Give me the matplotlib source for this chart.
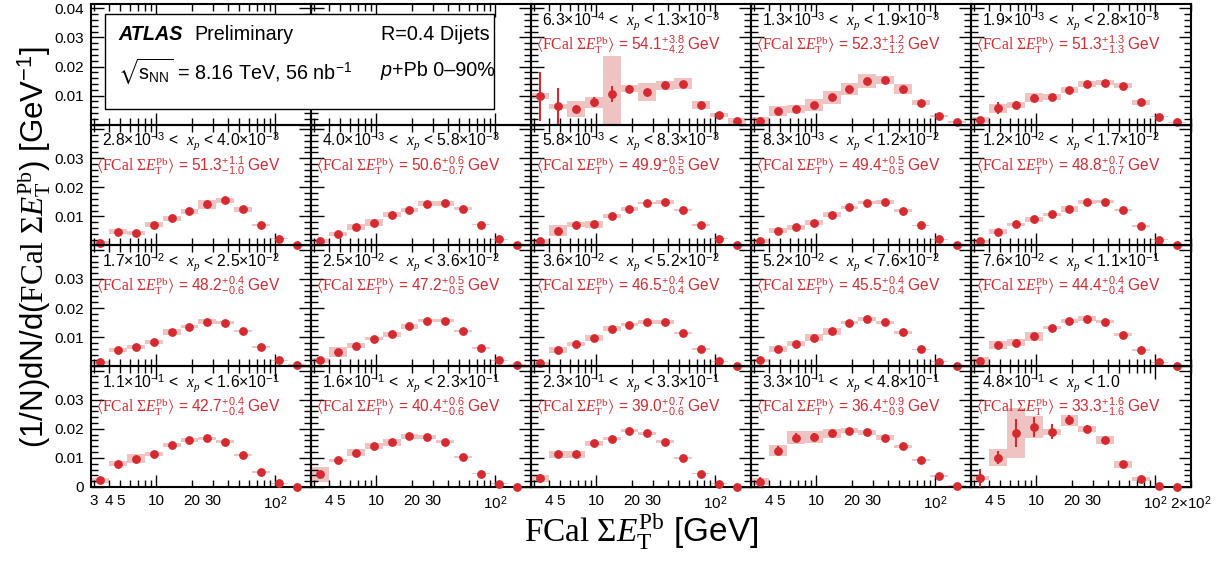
import numpy as np
import matplotlib
matplotlib.use("Agg")
import matplotlib.pyplot as plt
from matplotlib.patches import Rectangle
from matplotlib.ticker import FixedLocator, FuncFormatter, MultipleLocator

plt.rcParams["font.family"] = ["Liberation Sans", "DejaVu Sans"]
plt.rcParams["mathtext.fontset"] = "custom"
plt.rcParams["mathtext.rm"] = "Liberation Serif"
plt.rcParams["mathtext.it"] = "Liberation Serif:italic"
plt.rcParams["mathtext.bf"] = "Liberation Serif:bold"
plt.rcParams["mathtext.sf"] = "Liberation Sans"
plt.rcParams["mathtext.fallback"] = "stix"

# FCal sum ET binning (GeV)
et_edges = [2.83, 4.0, 5.66, 8.0, 11.3, 16.0, 22.6, 32.0, 45.3, 64.0, 90.5, 128.0, 181.0]
et_centers = [3.36, 4.76, 6.73, 9.51, 13.5, 19.0, 26.9, 38.1, 53.8, 76.1, 108.0, 152.0]

# x_p bin boundaries
xp_edges = ["6.3×10$^{\\mathsf{-4}}$", "1.3×10$^{\\mathsf{-3}}$", "1.9×10$^{\\mathsf{-3}}$",
            "2.8×10$^{\\mathsf{-3}}$", "4.0×10$^{\\mathsf{-3}}$", "5.8×10$^{\\mathsf{-3}}$",
            "8.3×10$^{\\mathsf{-3}}$", "1.2×10$^{\\mathsf{-2}}$", "1.7×10$^{\\mathsf{-2}}$",
            "2.5×10$^{\\mathsf{-2}}$", "3.6×10$^{\\mathsf{-2}}$", "5.2×10$^{\\mathsf{-2}}$",
            "7.6×10$^{\\mathsf{-2}}$", "1.1×10$^{\\mathsf{-1}}$", "1.6×10$^{\\mathsf{-1}}$",
            "2.3×10$^{\\mathsf{-1}}$", "3.3×10$^{\\mathsf{-1}}$", "4.8×10$^{\\mathsf{-1}}$", "1.0"]

# <FCal sum ET> per x_p bin, with up / down uncertainties
mean_et = ["54.1", "52.3", "51.3", "51.3", "50.6", "49.9", "49.4", "48.8", "48.2",
           "47.2", "46.5", "45.5", "44.4", "42.7", "40.4", "39.0", "36.4", "33.3"]
mean_up = ["3.8", "1.2", "1.3", "1.1", "0.6", "0.5", "0.5", "0.7", "0.4",
           "0.5", "0.4", "0.4", "0.4", "0.4", "0.6", "0.7", "0.9", "1.6"]
mean_dn = ["4.2", "1.2", "1.3", "1.0", "0.7", "0.5", "0.5", "0.7", "0.6",
           "0.5", "0.4", "0.4", "0.4", "0.4", "0.6", "0.6", "0.9", "1.6"]

# (1/N) dN/dET per x_p bin
dist = [
    [0.0098, 0.0063, 0.0054, 0.0077, 0.0106, 0.0124, 0.0112, 0.0136, 0.0141, 0.0067, 0.0033, 0.0012],
    [0.0012, 0.0047, 0.0054, 0.0067, 0.0094, 0.0122, 0.0151, 0.0153, 0.0123, 0.0076, 0.0030, 0.0009],
    [0.0017, 0.0057, 0.0069, 0.0093, 0.0094, 0.0119, 0.0140, 0.0145, 0.0134, 0.0077, 0.0028, 0.0008],
    [0.0009, 0.0047, 0.0043, 0.0072, 0.0094, 0.0117, 0.0141, 0.0155, 0.0124, 0.0070, 0.0024, 0.0003],
    [0.0014, 0.0040, 0.0063, 0.0078, 0.0106, 0.0122, 0.0144, 0.0145, 0.0127, 0.0072, 0.0022, 0.0003],
    [0.0014, 0.0051, 0.0071, 0.0073, 0.0100, 0.0126, 0.0147, 0.0150, 0.0122, 0.0070, 0.0023, 0.0003],
    [0.0014, 0.0051, 0.0062, 0.0079, 0.0106, 0.0131, 0.0147, 0.0150, 0.0120, 0.0069, 0.0022, 0.0003],
    [0.0014, 0.0047, 0.0073, 0.0090, 0.0107, 0.0126, 0.0149, 0.0150, 0.0123, 0.0067, 0.0020, 0.0003],
    [0.0013, 0.0056, 0.0066, 0.0084, 0.0117, 0.0136, 0.0153, 0.0150, 0.0121, 0.0066, 0.0021, 0.0005],
    [0.0021, 0.0049, 0.0071, 0.0095, 0.0110, 0.0137, 0.0157, 0.0156, 0.0121, 0.0063, 0.0020, 0.0005],
    [0.0010, 0.0057, 0.0077, 0.0097, 0.0129, 0.0142, 0.0152, 0.0152, 0.0115, 0.0059, 0.0017, 0.0002],
    [0.0021, 0.0058, 0.0078, 0.0098, 0.0120, 0.0150, 0.0162, 0.0151, 0.0116, 0.0058, 0.0016, 0.0002],
    [0.0019, 0.0072, 0.0080, 0.0103, 0.0133, 0.0156, 0.0164, 0.0153, 0.0109, 0.0055, 0.0014, 0.0001],
    [0.0023, 0.0080, 0.0097, 0.0114, 0.0144, 0.0162, 0.0167, 0.0156, 0.0110, 0.0051, 0.0013, 0.0000],
    [0.0043, 0.0092, 0.0118, 0.0141, 0.0153, 0.0174, 0.0172, 0.0155, 0.0102, 0.0046, 0.0011, 0.0000],
    [0.0030, 0.0112, 0.0112, 0.0150, 0.0166, 0.0194, 0.0184, 0.0155, 0.0100, 0.0046, 0.0011, 0.0000],
    [0.0018, 0.0125, 0.0170, 0.0172, 0.0184, 0.0194, 0.0188, 0.0170, 0.0140, 0.0093, 0.0038, 0.0005],
    [0.0031, 0.0101, 0.0186, 0.0206, 0.0190, 0.0229, 0.0200, 0.0161, 0.0078, 0.0026, 0.0003, 0.0000],
]

# systematic uncertainties (boxes)
syst = [
    [0.0011, 0.0009, 0.0028, 0.0018, 0.0131, 0.0012, 0.0032, 0.0016, 0.0019, 0.0013, 0.0006, 0.0010],
    [0.0015, 0.0016, 0.0013, 0.0020, 0.0023, 0.0020, 0.0023, 0.0014, 0.0017, 0.0009, 0.0004, 0.0003],
    [0.0010, 0.0015, 0.0010, 0.0015, 0.0010, 0.0010, 0.0010, 0.0010, 0.0008, 0.0008, 0.0002, 0.0002],
    [0.0008, 0.0008, 0.0008, 0.0009, 0.0009, 0.0009, 0.0016, 0.0009, 0.0008, 0.0003, 0.0002, 0.0002],
    [0.0007, 0.0007, 0.0010, 0.0012, 0.0009, 0.0008, 0.0008, 0.0008, 0.0004, 0.0003, 0.0002, 0.0002],
    [0.0008, 0.0019, 0.0009, 0.0012, 0.0007, 0.0008, 0.0004, 0.0008, 0.0005, 0.0003, 0.0002, 0.0002],
    [0.0007, 0.0009, 0.0009, 0.0009, 0.0009, 0.0004, 0.0005, 0.0006, 0.0004, 0.0003, 0.0002, 0.0002],
    [0.0006, 0.0009, 0.0005, 0.0009, 0.0005, 0.0010, 0.0008, 0.0005, 0.0004, 0.0003, 0.0002, 0.0002],
    [0.0005, 0.0008, 0.0006, 0.0007, 0.0011, 0.0005, 0.0008, 0.0005, 0.0004, 0.0003, 0.0002, 0.0002],
    [0.0009, 0.0016, 0.0009, 0.0005, 0.0009, 0.0009, 0.0005, 0.0005, 0.0004, 0.0003, 0.0002, 0.0002],
    [0.0005, 0.0010, 0.0006, 0.0009, 0.0009, 0.0005, 0.0007, 0.0007, 0.0004, 0.0003, 0.0002, 0.0002],
    [0.0005, 0.0010, 0.0009, 0.0012, 0.0012, 0.0005, 0.0008, 0.0005, 0.0004, 0.0003, 0.0002, 0.0002],
    [0.0013, 0.0014, 0.0012, 0.0015, 0.0006, 0.0006, 0.0008, 0.0005, 0.0004, 0.0003, 0.0002, 0.0002],
    [0.0008, 0.0008, 0.0016, 0.0008, 0.0007, 0.0008, 0.0006, 0.0004, 0.0003, 0.0003, 0.0002, 0.0002],
    [0.0027, 0.0005, 0.0013, 0.0010, 0.0011, 0.0008, 0.0006, 0.0005, 0.0003, 0.0003, 0.0002, 0.0002],
    [0.0012, 0.0013, 0.0012, 0.0008, 0.0006, 0.0006, 0.0006, 0.0005, 0.0004, 0.0003, 0.0002, 0.0002],
    [0.0012, 0.0020, 0.0022, 0.0020, 0.0015, 0.0010, 0.0008, 0.0008, 0.0006, 0.0004, 0.0003, 0.0002],
    [0.0008, 0.0028, 0.0085, 0.0038, 0.0010, 0.0018, 0.0010, 0.0013, 0.0012, 0.0007, 0.0002, 0.0002],
]

# statistical uncertainties (vertical bars)
stat_small = [0.0006, 0.0006, 0.0005, 0.0005, 0.0004, 0.0004, 0.0004, 0.0004, 0.0004, 0.0003, 0.0002, 0.0001]
stat = [
    [0.0085, 0.0065, 0.0014, 0.0017, 0.0027, 0.0012, 0.0010, 0.0009, 0.0009, 0.0006, 0.0004, 0.0003],
    [0.0010, 0.0010, 0.0009, 0.0011, 0.0011, 0.0008, 0.0008, 0.0007, 0.0007, 0.0005, 0.0003, 0.0002],
    [0.0008, 0.0021, 0.0011, 0.0012, 0.0008, 0.0007, 0.0006, 0.0006, 0.0006, 0.0004, 0.0003, 0.0002],
    stat_small, stat_small, stat_small, stat_small, stat_small,
    stat_small, stat_small, stat_small, stat_small, stat_small,
    stat_small,
    [0.0010, 0.0006, 0.0005, 0.0005, 0.0004, 0.0004, 0.0004, 0.0004, 0.0004, 0.0003, 0.0002, 0.0001],
    [0.0015, 0.0010, 0.0010, 0.0007, 0.0006, 0.0005, 0.0005, 0.0005, 0.0004, 0.0003, 0.0002, 0.0001],
    [0.0015, 0.0015, 0.0015, 0.0014, 0.0010, 0.0008, 0.0007, 0.0006, 0.0005, 0.0004, 0.0003, 0.0002],
    [0.0030, 0.0023, 0.0047, 0.0035, 0.0025, 0.0017, 0.0013, 0.0009, 0.0006, 0.0005, 0.0003, 0.0002],
]

RED = "#d42a30"
PINK = "#f0c3c3"
YMAX = 0.0415

fig, axes = plt.subplots(4, 5, figsize=(12.26, 5.61), dpi=100)
fig.subplots_adjust(left=91 / 1226, right=1191 / 1226, top=1 - 4 / 561, bottom=1 - 487 / 561,
                    wspace=0, hspace=0)

edges = np.array(et_edges)
widths = np.diff(edges)


def ylabels_for(row):
    def fmt(v, pos):
        if abs(v) < 1e-9:
            return "0" if row == 3 else ""
        if v > 0.0395 and row != 0:
            return ""
        return f"{v:.2f}"
    return fmt


def xlabels_for(col):
    shown = {4: "4", 5: "5", 20: "20", 30: "30"}
    if col == 0:
        shown[3] = "3"
    if col == 4:
        shown[200] = "2×10$^{\\mathsf{2}}$"

    def fmt(v, pos):
        return shown.get(int(round(v)), "")
    return fmt


for r in range(4):
    for c in range(5):
        ax = axes[r, c]
        ax.patch.set_visible(False)
        ax.set_xscale("log")
        ax.set_xlim(2.83, 200)
        ax.set_ylim(0, YMAX)
        for s in ax.spines.values():
            s.set_linewidth(1.5)

        ax.xaxis.set_major_locator(FixedLocator([10, 100]))
        ax.xaxis.set_minor_locator(FixedLocator([3, 4, 5, 6, 7, 8, 9, 20, 30, 40, 50, 60, 70, 80, 90, 200]))
        ax.yaxis.set_major_locator(MultipleLocator(0.01))
        ax.yaxis.set_minor_locator(MultipleLocator(0.002))
        ax.tick_params(which="both", direction="in", top=True, right=True, width=1,
                       labelsize=11, pad=5)
        ax.tick_params(which="major", length=9)
        ax.tick_params(which="minor", length=5)

        if r == 3:
            ax.xaxis.set_major_formatter(FuncFormatter(
                lambda v, p: "10" if v < 50 else "10$^{\\mathsf{2}}$"))
            ax.xaxis.set_minor_formatter(FuncFormatter(xlabels_for(c)))
            ax.tick_params(axis="x", which="both", labelsize=11, pad=5)
        else:
            ax.tick_params(axis="x", which="both", labelbottom=False)
        if c == 0:
            ax.yaxis.set_major_formatter(FuncFormatter(ylabels_for(r)))
        else:
            ax.tick_params(axis="y", which="both", labelleft=False)

        k = r * 5 + c - 2
        if k < 0:
            continue

        y = np.array(dist[k])
        sy = np.array(syst[k])
        st = np.array(stat[k])

        ax.bar(edges[:-1], 2 * sy, width=widths, bottom=y - sy, align="edge",
               color=PINK, linewidth=0, zorder=1)
        ax.vlines(et_centers, y - st, y + st, color=RED, linewidth=1.5, zorder=3)
        ax.plot(et_centers, y, "o", color=RED, ms=5.3, clip_on=False, zorder=5)

        ax.text(0.05, 0.86, xp_edges[k] + " <  $x_{p}$ < " + xp_edges[k + 1],
                transform=ax.transAxes, fontsize=11.3, va="center", ha="left")
        ax.text(0.025, 0.665,
                r"$\langle\mathrm{FCal}\ \Sigma E_{\mathrm{T}}^{\mathrm{Pb}}\rangle$ = "
                + "$\\mathsf{" + mean_et[k] + "}^{\\mathsf{+" + mean_up[k] + "}}_{\\mathsf{-"
                + mean_dn[k] + "}}$ GeV",
                transform=ax.transAxes, fontsize=11.2, color=RED, va="center", ha="left")

# label box in the top-left corner
fig.add_artist(Rectangle((105 / 1226, 1 - 109 / 561), 389 / 1226, 95 / 561,
                         transform=fig.transFigure, facecolor="white", edgecolor="black",
                         linewidth=1, zorder=2))
fig.text(118 / 1226, 1 - 35 / 561, "ATLAS", fontsize=14.2, fontweight="bold", fontstyle="italic",
         va="center", zorder=3)
fig.text(194 / 1226, 1 - 35 / 561, "Preliminary", fontsize=14.2, va="center", zorder=3)
fig.text(381 / 1226, 1 - 35 / 561, "R=0.4 Dijets", fontsize=14.2, va="center", zorder=3)
fig.text(118 / 1226, 1 - 71 / 561,
         r"$\sqrt{\mathsf{s}_{\mathsf{NN}}}$ = 8.16 TeV, 56 nb$^{\mathsf{-1}}$",
         fontsize=14.2, va="center", zorder=3)
fig.text(381 / 1226, 1 - 71 / 561, "p", fontsize=14.2, fontstyle="italic", va="center", zorder=3)
fig.text(392 / 1226, 1 - 71 / 561, "+Pb 0–90%", fontsize=14.2, va="center", zorder=3)

fig.text(34 / 1226, 1 - 247 / 561,
         r"(1/N)dN/d($\mathrm{FCal}\ \Sigma E_{\mathrm{T}}^{\mathrm{Pb}}$) [GeV$^{\mathsf{-1}}$]",
         rotation=90, fontsize=22.5, va="center", ha="center")
fig.text(641 / 1226, 1 - 532 / 561,
         r"$\mathrm{FCal}\ \Sigma E_{\mathrm{T}}^{\mathrm{Pb}}$ [GeV]",
         fontsize=24, va="center", ha="center")

fig.savefig("out.png", dpi=100)
